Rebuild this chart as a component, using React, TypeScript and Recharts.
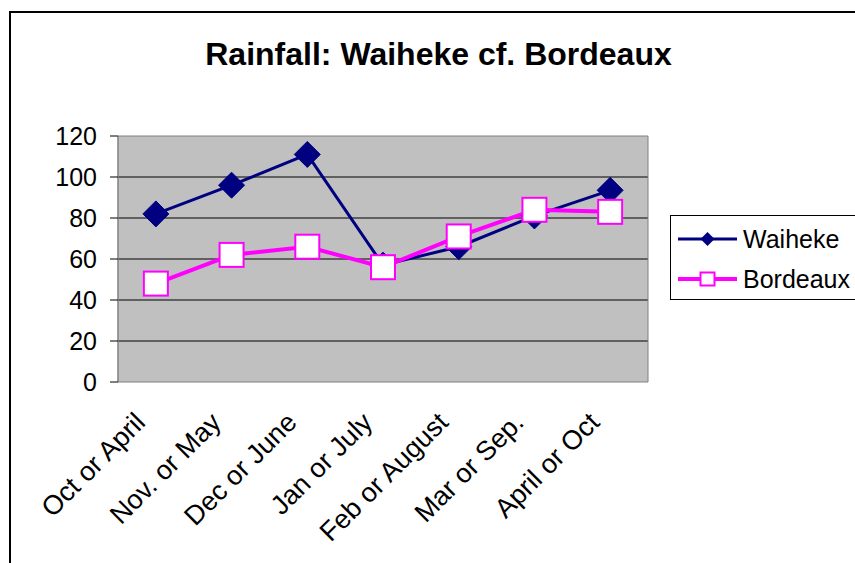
import { LineChart, Line, XAxis, YAxis, CartesianGrid, Legend, ReferenceArea } from 'recharts';

const CATEGORIES = ['Oct or April', 'Nov. or May', 'Dec or June', 'Jan or July', 'Feb or August', 'Mar or Sep.', 'April or Oct'];
const WAIHEKE = [82, 96, 111, 57, 66, 81, 93.5];
const BORDEAUX = [48, 62, 66, 56, 71, 84, 83];
const Y_TICKS = [0, 20, 40, 60, 80, 100, 120];
const GRID_VALUES = [20, 40, 60, 80, 100];

const FONT = '"Liberation Sans", Arial, sans-serif';
const NAVY = '#000080';
const MAGENTA = '#ff00ff';

// categories sit in the middle of each slot, ticks fall between them
const data = CATEGORIES.map((name, i) => ({ pos: i + 0.5, name, waiheke: WAIHEKE[i], bordeaux: BORDEAUX[i] }));
const slotTicks = CATEGORIES.map((_, i) => i).concat(CATEGORIES.length);
const labelTicks = data.map((d) => d.pos);

function Diamond(props: any) {
  const { cx, cy, index } = props;
  const r = 13;
  return (
    <polygon
      key={`d-${index}`}
      points={`${cx},${cy - r} ${cx + r},${cy} ${cx},${cy + r} ${cx - r},${cy}`}
      fill={NAVY}
      stroke={NAVY}
    />
  );
}

function Square(props: any) {
  const { cx, cy, index } = props;
  const s = 24;
  return <rect key={`s-${index}`} x={cx - s / 2} y={cy - s / 2} width={s} height={s} fill="#fff" stroke={MAGENTA} strokeWidth={2} />;
}

function AngledTick(props: any) {
  const { x, y, payload } = props;
  const label = CATEGORIES[Math.floor(payload.value)];
  return (
    <g transform={`translate(${x - 9},${y + 42})`}>
      <text textAnchor="end" transform="rotate(-45)" fontSize={27} fontFamily={FONT} fill="#000">
        {label}
      </text>
    </g>
  );
}

function LegendBox() {
  const rows = [
    { name: 'Waiheke', color: NAVY, width: 3, marker: 'diamond' },
    { name: 'Bordeaux', color: MAGENTA, width: 4, marker: 'square' },
  ];
  return (
    <div style={{ border: '1px solid #000', background: '#fff', padding: '3px 20px 0 7px', fontFamily: FONT, fontSize: 25 }}>
      {rows.map((r) => (
        <div key={r.name} style={{ display: 'flex', alignItems: 'center', height: 40 }}>
          <svg width={59} height={20} style={{ marginRight: 6 }}>
            <line x1={0} y1={10} x2={59} y2={10} stroke={r.color} strokeWidth={r.width} />
            {r.marker === 'diamond' ? (
              <polygon points="29.5,3 36.5,10 29.5,17 22.5,10" fill={NAVY} />
            ) : (
              <rect x={22.5} y={3.5} width={14} height={13} fill="#fff" stroke={MAGENTA} strokeWidth={2} />
            )}
          </svg>
          <span>{r.name}</span>
        </div>
      ))}
    </div>
  );
}

export default function App() {
  return (
    <div style={{ position: 'absolute', top: 0, left: 0, width: 855, height: 563, overflow: 'hidden', background: '#fff' }}>
      <div style={{ position: 'absolute', left: 9, top: 11, width: 1000, height: 1000, border: '2px solid #000' }} />
      <div
        style={{
          position: 'absolute',
          top: 38,
          left: 0,
          width: 877,
          textAlign: 'center',
          fontFamily: FONT,
          fontWeight: 'bold',
          fontSize: 32,
          lineHeight: '32px',
        }}
      >
        Rainfall: Waiheke cf. Bordeaux
      </div>
      <div style={{ position: 'absolute', top: 0, left: 0 }}>
        <LineChart width={855} height={563} data={data} margin={{ top: 136, right: 207, bottom: 0, left: 0 }}>
          <CartesianGrid xAxisId="frame" vertical={false} fill="#c0c0c0" fillOpacity={1} stroke="#000" horizontalValues={GRID_VALUES} />
          <ReferenceArea xAxisId="frame" x1={0} x2={7} y1={0} y2={120} fill="none" stroke="#808080" ifOverflow="visible" />
          <XAxis
            xAxisId="frame"
            type="number"
            dataKey="pos"
            domain={[0, 7]}
            ticks={slotTicks}
            interval={0}
            tick={false}
            tickSize={8}
            height={0}
            axisLine={{ stroke: '#000', strokeWidth: 1.5 }}
            tickLine={{ stroke: '#808080' }}
          />
          <XAxis
            xAxisId="labels"
            type="number"
            dataKey="pos"
            domain={[0, 7]}
            ticks={labelTicks}
            interval={0}
            axisLine={false}
            tickLine={false}
            tickSize={0}
            tickMargin={0}
            height={181}
            tick={<AngledTick />}
          />
          <YAxis
            type="number"
            domain={[0, 120]}
            ticks={Y_TICKS}
            interval={0}
            width={118}
            tickSize={8}
            tickMargin={13}
            axisLine={{ stroke: '#808080' }}
            tickLine={{ stroke: '#000' }}
            tick={{ fontSize: 25, fontFamily: FONT, fill: '#000' }}
          />
          <Legend
            layout="vertical"
            align="center"
            verticalAlign="middle"
            wrapperStyle={{ left: 670, top: 215, width: 'auto' }}
            content={() => <LegendBox />}
          />
          <Line
            xAxisId="frame"
            type="linear"
            dataKey="waiheke"
            name="Waiheke"
            stroke={NAVY}
            strokeWidth={3}
            dot={Diamond}
            activeDot={false}
            isAnimationActive={false}
          />
          <Line
            xAxisId="frame"
            type="linear"
            dataKey="bordeaux"
            name="Bordeaux"
            stroke={MAGENTA}
            strokeWidth={4}
            dot={Square}
            activeDot={false}
            isAnimationActive={false}
          />
        </LineChart>
      </div>
    </div>
  );
}
